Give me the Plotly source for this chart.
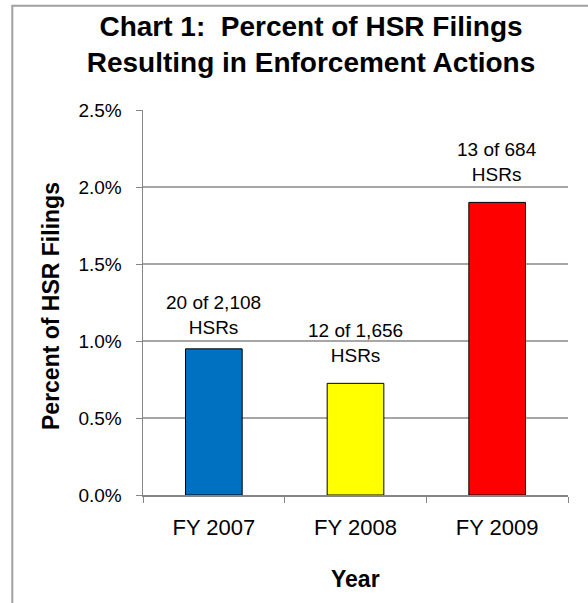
import plotly.graph_objects as go

categories = ["FY 2007", "FY 2008", "FY 2009"]
percent_values = [0.949, 0.725, 1.90]
bar_colors = ["#0070C0", "#FFFF00", "#FF0000"]
bar_labels = ["20 of 2,108<br>HSRs", "12 of 1,656<br>HSRs", "13 of 684<br>HSRs"]
y_tick_vals = [0.0, 0.5, 1.0, 1.5, 2.0, 2.5]
y_tick_text = ["0.0%", "0.5%", "1.0%", "1.5%", "2.0%", "2.5%"]

label_shifts = [9, 15, 15]

FONT = "Liberation Sans, Arial, sans-serif"

W, H = 588, 603
L, R, T, B = 143, 20, 110, 108
pw, ph = W - L - R, H - T - B


def px(xp):
    return (xp - L) / pw


def py(yp):
    return (H - B - yp) / ph


fig = go.Figure()
fig.add_trace(go.Bar(
    x=categories, y=percent_values, width=0.4,
    marker=dict(color=bar_colors, line=dict(color="#000000", width=1)),
    hoverinfo="skip",
))

for c, v, t, s in zip(categories, percent_values, bar_labels, label_shifts):
    fig.add_annotation(x=c, y=v, text=t, showarrow=False, xanchor="center", yanchor="bottom",
                       yshift=s, font=dict(family=FONT, size=19, color="#000000"))

fig.add_annotation(xref="paper", yref="paper", x=px(51), y=py(306), text="<b>Percent of HSR Filings</b>",
                   textangle=-90, showarrow=False, xanchor="center", yanchor="middle",
                   font=dict(family=FONT, size=23, color="#000000"))
fig.add_annotation(xref="paper", yref="paper", x=px(355.5), y=py(579), text="<b>Year</b>",
                   showarrow=False, xanchor="center", yanchor="middle",
                   font=dict(family=FONT, size=23, color="#000000"))

fig.add_shape(type="path", xref="paper", yref="paper",
              path=f"M {px(12.3)} {py(700)} L {px(12.3)} {py(5.7)} L {px(700)} {py(5.7)}",
              line=dict(color="#A0A0A0", width=2), layer="above")

fig.update_layout(
    width=W, height=H,
    margin=dict(l=L, r=R, t=T, b=B, autoexpand=False),
    paper_bgcolor="white", plot_bgcolor="white",
    showlegend=False,
    title=dict(text="<b>Chart 1:  Percent of HSR Filings<br>Resulting in Enforcement Actions</b>",
               x=311 / W, xanchor="center", y=1 - 36 / H, yanchor="middle",
               font=dict(family=FONT, size=28, color="#000000")),
    xaxis=dict(type="category", showline=True, linecolor="#868686", linewidth=1.5,
               ticks="outside", tickson="boundaries", ticklen=6, tickcolor="#868686",
               tickfont=dict(family=FONT, size=22, color="#000000"), ticklabelstandoff=12,
               showgrid=False, fixedrange=True),
    yaxis=dict(range=[0, 2.5], tickvals=y_tick_vals, ticktext=y_tick_text,
               showline=True, linecolor="#868686", linewidth=1.5,
               ticks="outside", ticklen=6, tickcolor="#868686",
               tickfont=dict(family=FONT, size=19, color="#000000"), ticklabelstandoff=10,
               showgrid=True, gridcolor="#A6A6A6", gridwidth=1.2, zeroline=False, fixedrange=True),
)

fig.write_html(
    "out.html",
    config={"displayModeBar": False, "staticPlot": True},
    post_script="document.body.style.margin='0';document.body.style.overflow='hidden';"
                "document.documentElement.style.overflow='hidden';",
)
